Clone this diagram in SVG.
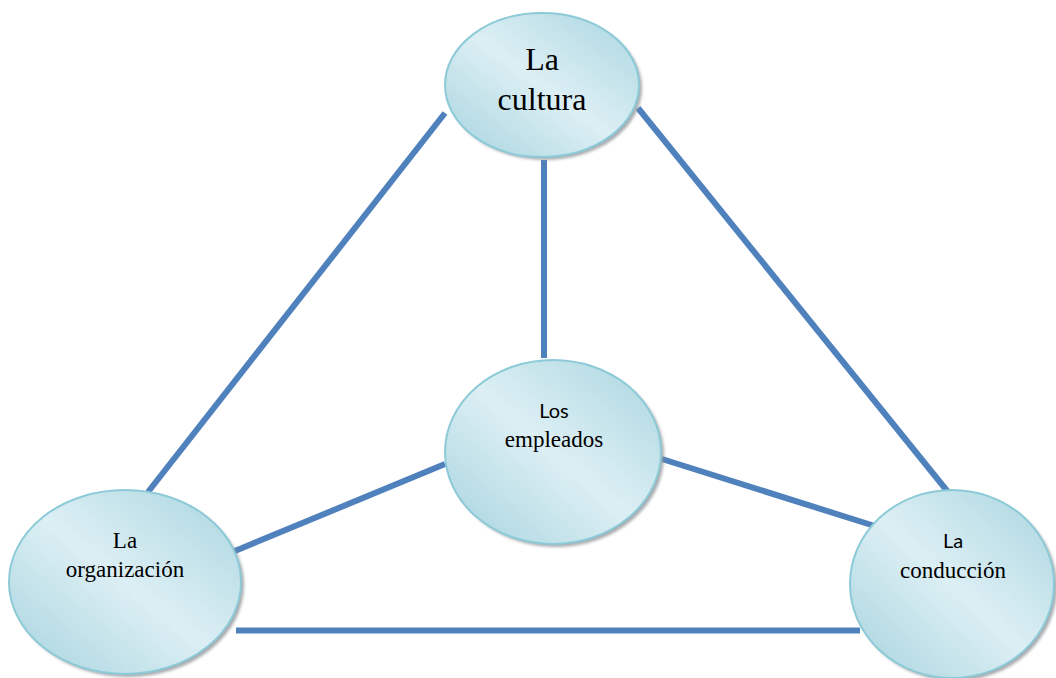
<svg xmlns="http://www.w3.org/2000/svg" width="1056" height="678" viewBox="0 0 1056 678">
<defs>
<linearGradient id="g" x1="0" y1="1" x2="1" y2="0">
<stop offset="0" stop-color="#a6d3de"/>
<stop offset="0.5" stop-color="#dceff4"/>
<stop offset="1" stop-color="#a9d5e0"/>
</linearGradient>
<filter id="sh" x="-10%" y="-10%" width="130%" height="130%">
<feGaussianBlur stdDeviation="1.5"/>
</filter>
</defs>
<style>
.edge{stroke:#4f81bd;stroke-width:6;fill:none}
.shadow{fill:#8a8f94;opacity:0.75}
.node{fill:url(#g);stroke:#8ccad8;stroke-width:2}
.serif{font-family:"Liberation Serif","Times New Roman",serif;fill:#000;text-anchor:middle}
.sans{font-family:Lato,"Liberation Sans",sans-serif;fill:#000;text-anchor:middle}
</style>
<rect width="1056" height="678" fill="#fff"/>
<g id="connectors">
<line class="edge" x1="445" y1="113" x2="148" y2="492"/>
<line class="edge" x1="544" y1="160" x2="544" y2="358"/>
<line class="edge" x1="638" y1="108" x2="948" y2="492"/>
<line class="edge" x1="445" y1="464" x2="230" y2="553"/>
<line class="edge" x1="662" y1="459" x2="881" y2="528"/>
<line class="edge" x1="236" y1="630.5" x2="860" y2="630.5"/>
</g>
<g id="cultura">
<ellipse class="shadow" cx="545" cy="88" rx="97" ry="72" filter="url(#sh)"/>
<ellipse class="node" cx="542" cy="85" rx="97" ry="72"/>
<text class="serif" x="542" y="70" font-size="32">La</text>
<text class="serif" x="542" y="110" font-size="32">cultura</text>
</g>
<g id="empleados">
<ellipse class="shadow" cx="556" cy="455" rx="108" ry="92" filter="url(#sh)"/>
<ellipse class="node" cx="553" cy="452" rx="108" ry="92"/>
<text class="sans" x="554" y="418" font-size="20">Los</text>
<text class="serif" x="554" y="447" font-size="23">empleados</text>
</g>
<g id="organizacion">
<ellipse class="shadow" cx="128" cy="585" rx="116" ry="92" filter="url(#sh)"/>
<ellipse class="node" cx="125" cy="582" rx="116" ry="92"/>
<text class="serif" x="125" y="548" font-size="23">La</text>
<text class="serif" x="125" y="577" font-size="23">organización</text>
</g>
<g id="conduccion">
<ellipse class="shadow" cx="955" cy="587" rx="102" ry="94" filter="url(#sh)"/>
<ellipse class="node" cx="952" cy="584" rx="102" ry="94"/>
<text class="sans" x="953" y="548" font-size="20">La</text>
<text class="serif" x="953" y="578" font-size="23">conducción</text>
</g>
</svg>
